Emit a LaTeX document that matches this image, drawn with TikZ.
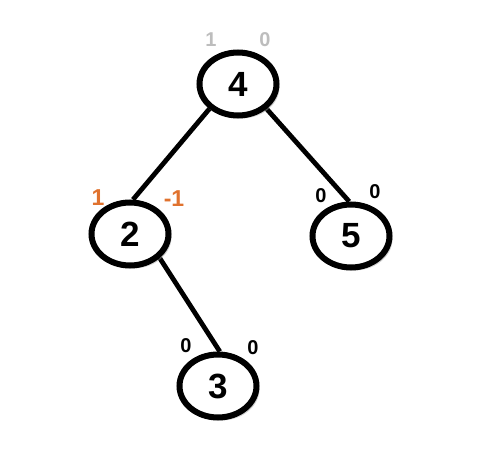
\documentclass[tikz,border=0pt]{standalone}
\usepackage{fontspec}
\setmainfont{Liberation Sans}
\usetikzlibrary{shapes.geometric,shadows,backgrounds}
\definecolor{lblgray}{HTML}{BDBDBD}
\definecolor{lblorange}{HTML}{E0722E}
\tikzset{
  treenode/.style={ellipse, draw=black, line width=6pt, fill=white,
    minimum width=77pt, minimum height=63pt, inner sep=0pt,
    font=\fontsize{35}{35}\selectfont\bfseries,
    drop shadow={shadow xshift=3pt, shadow yshift=-3pt, fill=black!40, opacity=0.45}},
  edge/.style={line width=4.8pt, draw=black},
  bal/.style={font=\fontsize{20}{20}\selectfont\bfseries, inner sep=0pt},
  balc/.style={font=\fontsize{23}{23}\selectfont\bfseries, inner sep=0pt, text=lblorange},
  balg/.style={font=\fontsize{20}{20}\selectfont\bfseries, inner sep=0pt, text=lblgray}
}
\begin{document}
\begin{tikzpicture}[x=1pt,y=1pt]
\useasboundingbox (0,0) rectangle (491,-468);
\node[treenode] (n4) at (238,-84) {4};
\node[treenode] (n2) at (130,-234) {2};
\node[treenode] (n5) at (351,-236) {5};
\node[treenode] (n3) at (218,-386) {3};
\begin{scope}[on background layer]
\draw[edge] (n4.221) -- (n2.85);
\draw[edge] (n4.319) -- (n5.93);
\draw[edge] (n2.321) -- (n3.87);
\end{scope}
\node[balg] (l4a) at (211,-40) {1};
\node[balg] (l4b) at (265,-40) {0};
\node[balc] (l2a) at (98,-198) {1};
\node[balc] (l2b) at (174,-199) {-1};
\node[bal] (l5a) at (321,-196) {0};
\node[bal] (l5b) at (375,-192) {0};
\node[bal] (l3a) at (186,-346) {0};
\node[bal] (l3b) at (253,-348) {0};
\end{tikzpicture}
\end{document}
